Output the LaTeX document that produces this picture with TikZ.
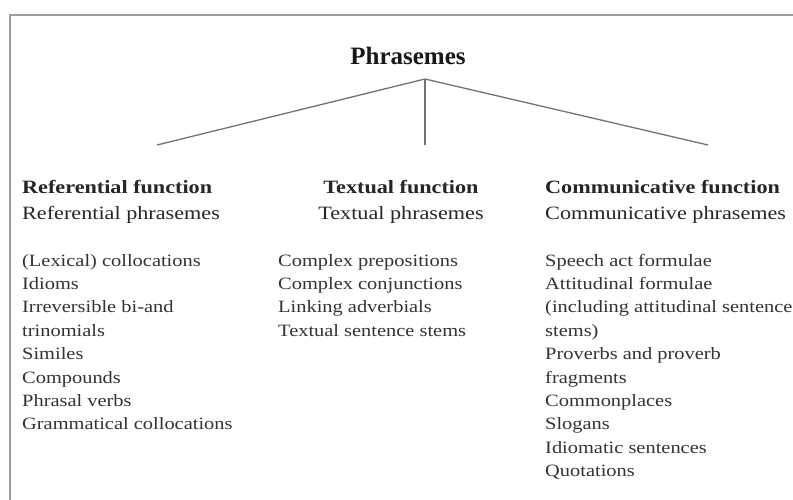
\documentclass[tikz,border=0pt]{standalone}
\usepackage{fontspec}
\setmainfont[FakeStretch=1.18]{Liberation Serif}
\newfontfamily\titlefont{Liberation Serif}
\begin{document}
\begin{tikzpicture}[x=1pt,y=-1pt,
  frame/.style={draw=black!38, line width=2pt},
  branch/.style={draw=black!55, line width=1.3pt},
  title/.style={anchor=base, inner sep=0pt, text=black!90, font=\titlefont\bfseries\fontsize{25}{30}\selectfont},
  head/.style={inner sep=0pt, text=black!85, font=\fontsize{18.8}{26}\selectfont},
  items/.style={anchor=base west, inner sep=0pt, align=left, text=black!80, font=\fontsize{17.3}{23.4}\selectfont}
]
\useasboundingbox (0,0) rectangle (793,500);
\fill[white] (0,0) rectangle (793,500);
\draw[frame] (793,15) -- (10,15) -- (10,500);

\node[title] (top) at (408,65) {Phrasemes};

\coordinate (apex) at (425,79);
\coordinate (lend) at (157,145);
\coordinate (mend) at (425,145);
\coordinate (rend) at (708,145);
\draw[branch] (lend) -- (apex) -- (rend);
\draw[branch] (apex) -- (mend);

% base anchor of a multi-line node lies on its last line
\node[head, anchor=base west, align=left] (refh) at (22,219) {\textbf{Referential function}\\Referential phrasemes};
\node[head, anchor=base, align=center] (texh) at (401,219) {\textbf{Textual function}\\Textual phrasemes};
\node[head, anchor=base west, align=left] (comh) at (545,219) {\textbf{Communicative function}\\Communicative phrasemes};

\node[items] (refi) at (22,429.8) {(Lexical) collocations\\Idioms\\Irreversible bi-and\\trinomials\\Similes\\Compounds\\Phrasal verbs\\Grammatical collocations};
\node[items] (texi) at (278,336.2) {Complex prepositions\\Complex conjunctions\\Linking adverbials\\Textual sentence stems};
\node[items] (comi) at (545,476.6) {Speech act formulae\\Attitudinal formulae\\(including attitudinal sentence\\stems)\\Proverbs and proverb\\fragments\\Commonplaces\\Slogans\\Idiomatic sentences\\Quotations};
\end{tikzpicture}
\end{document}
